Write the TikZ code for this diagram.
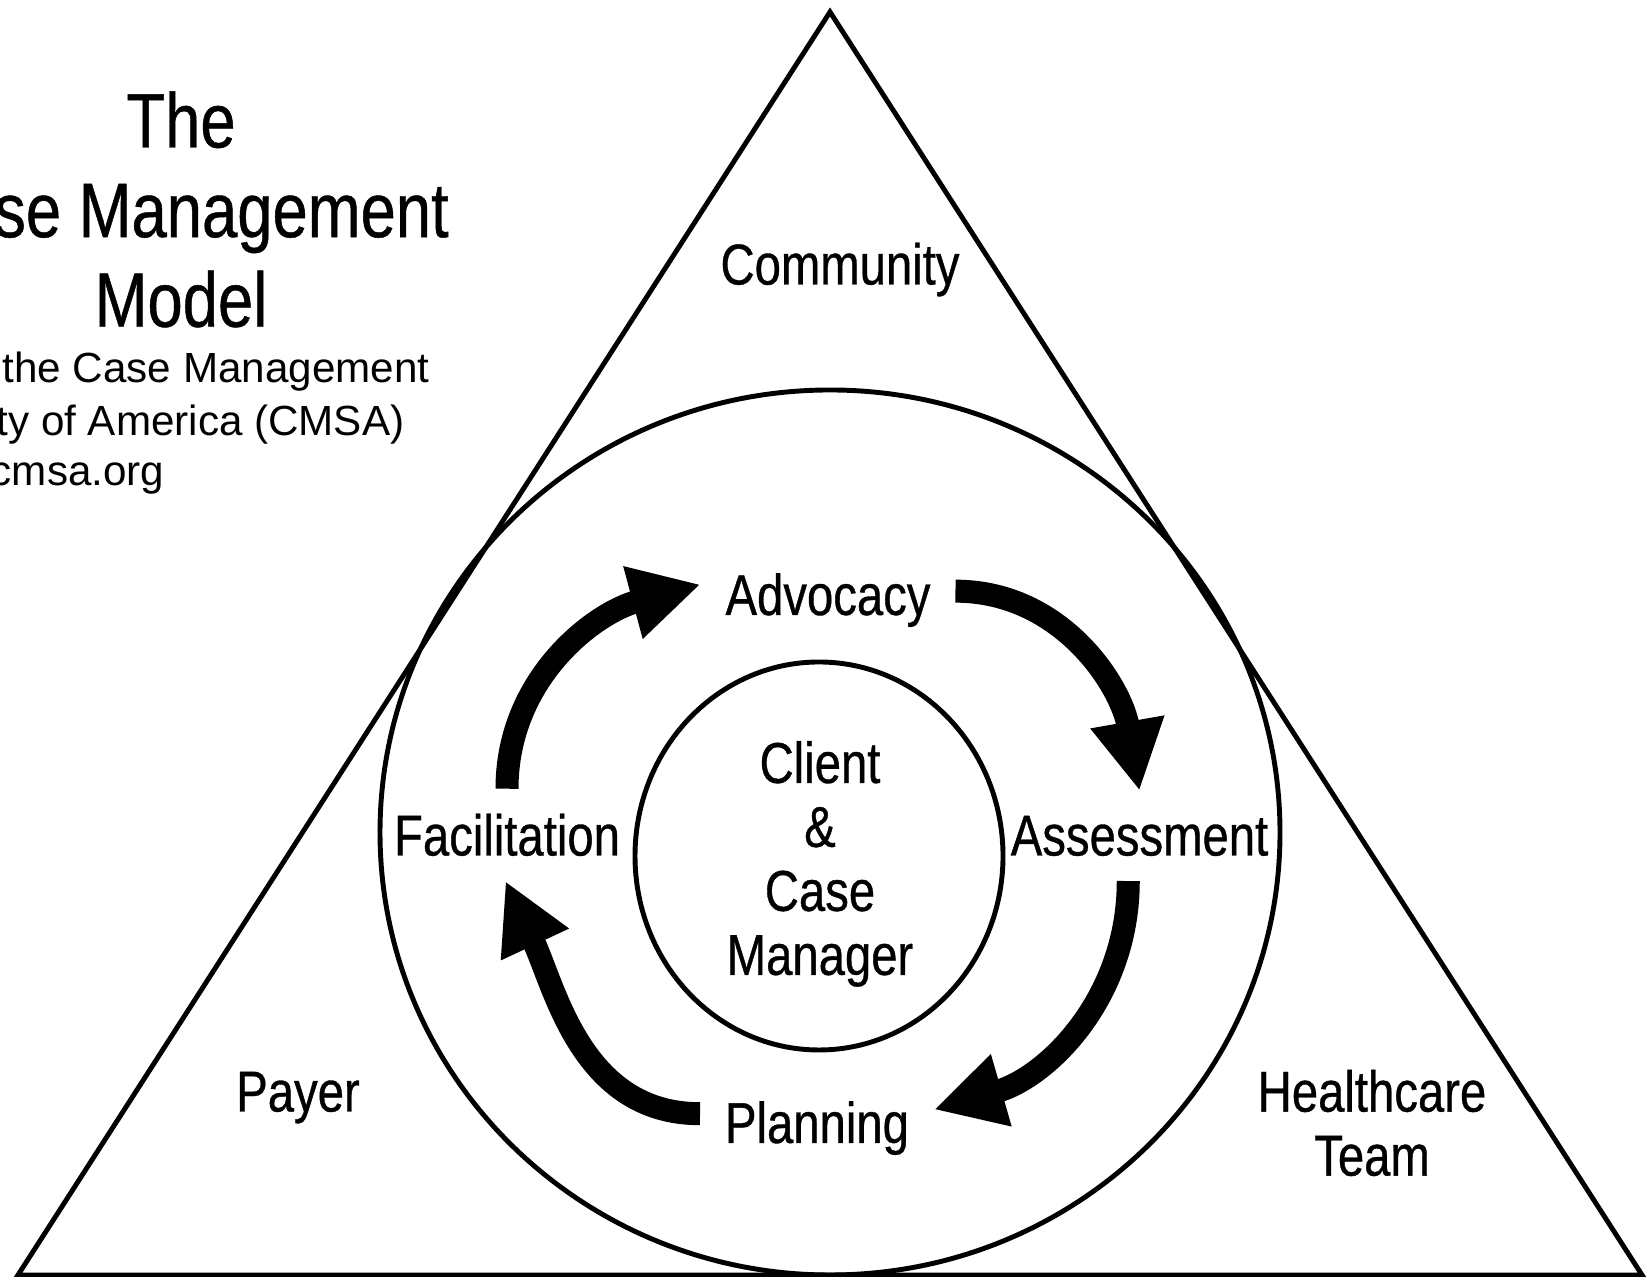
\documentclass[tikz,border=0pt]{standalone}
\usepackage{fontspec}
\setmainfont{Liberation Sans}
\newfontfamily\narrowsans[FakeStretch=0.82, FakeBold=0.6]{Liberation Sans}
\usetikzlibrary{arrows.meta, positioning}

\begin{document}
\begin{tikzpicture}[
    phase/.style={font=\narrowsans\fontsize{16.4}{18.2}\selectfont, inner sep=1mm, outer sep=1.5mm},
    party/.style={font=\narrowsans\fontsize{16.4}{18.2}\selectfont, align=center},
    source/.style={font=\fontsize{12}{14.8}\selectfont, anchor=base east, inner sep=0pt},
    ring/.style={line width=1.4pt},
    cyclearrow/.style={line width=2.3mm, -{Triangle[length=7mm, width=7mm]}}
]
    \useasboundingbox (0,0) rectangle (16.52,12.77);

    % title block, cut by the left edge
    \node[font=\narrowsans\fontsize{22}{25.5}\selectfont, align=center] (title) at (1.81,10.675) {The\\Case Management\\Model};
    \node[source] (src1) at (4.30,8.94) {the Case Management};
    \node[source] (src2) at (4.05,8.41) {Society of America (CMSA)};
    \node[source] (src3) at (1.65,7.91) {www.cmsa.org};

    \draw[ring, line join=miter] (8.30,12.65) -- (0.18,0.02) -- (16.42,0.02) -- cycle;
    \draw[ring] (8.30,4.445) ellipse [x radius=4.50, y radius=4.425];
    \draw[ring] (8.19,4.21) ellipse [x radius=1.84, y radius=1.94];

    \node[party, anchor=base] (community) at (8.40,9.925) {Community};
    \node[party, anchor=base] (payer) at (2.98,1.655) {Payer};
    \node[party] (team) at (13.72,1.54) {Healthcare\\Team};
    \node[party] (client) at (8.20,4.13) {Client\\\&\\Case\\Manager};

    \node[phase, anchor=base] (adv) at (8.28,6.62) {Advocacy};
    \node[phase, anchor=base] (ass) at (11.395,4.215) {Assessment};
    \node[phase, anchor=base] (pla) at (8.17,1.34) {Planning};
    \node[phase, anchor=base] (fac) at (5.07,4.215) {Facilitation};

    \draw[cyclearrow] (fac.north) to[out=90, in=195] (adv.173);
    \draw[cyclearrow] (adv.4) to[out=0, in=100] (ass.north);
    \draw[cyclearrow] (ass.256) to[out=-90, in=16] (pla.9);
    \draw[cyclearrow] (pla.173) to[out=180, in=-65] (fac.268);
\end{tikzpicture}
\end{document}
